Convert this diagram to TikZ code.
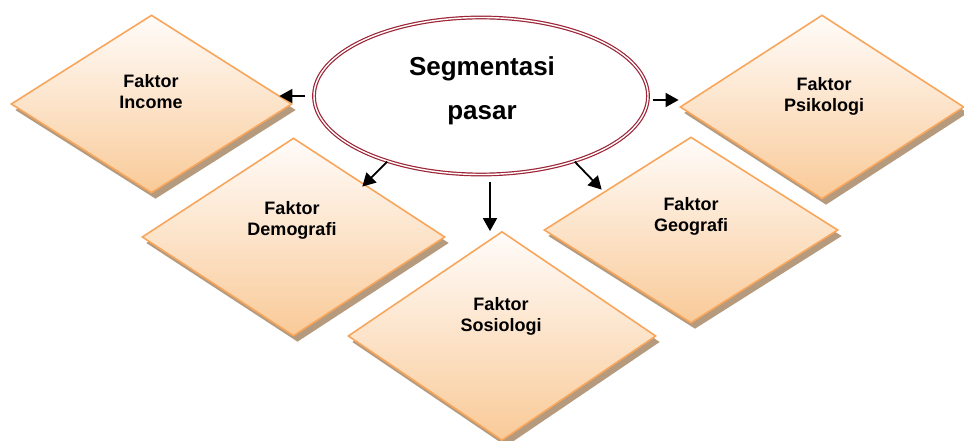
\documentclass[tikz,border=0pt]{standalone}
\usepackage{fontspec}
\setmainfont{Liberation Sans}
\usetikzlibrary{shapes.geometric,shadows,arrows.meta}
\definecolor{facborder}{HTML}{F7A65B}
\definecolor{factop}{HTML}{FFFCFA}
\definecolor{facbottom}{HTML}{F9CA98}
\definecolor{facshadow}{HTML}{B59A7E}
\definecolor{ellred}{HTML}{9C2436}
\tikzset{
  factor/.style={diamond, draw=facborder, line width=1.6pt, inner sep=0pt,
    top color=factop, bottom color=facbottom,
    general shadow={fill=facshadow, shadow xshift=4pt, shadow yshift=-6pt}},
  lbl/.style={font=\fontsize{18}{21}\selectfont\bfseries, align=center, inner sep=0pt},
  hub/.style={ellipse, draw=ellred, line width=1.2pt, double=white, double distance=1.4pt,
    fill=white, inner sep=0pt, minimum width=334pt, minimum height=157pt},
  hubtext/.style={font=\fontsize{26}{44}\selectfont\bfseries, align=center, inner sep=0pt},
  arr/.style={-{Triangle[width=14pt,length=13pt]}, line width=1.8pt, black}
}
\begin{document}
\begin{tikzpicture}[x=1pt,y=-1pt]
  \useasboundingbox (0,0) rectangle (964,441);

  % factor diamonds
  \node[factor, minimum width=281pt, minimum height=178pt] (inc) at (151.5,104) {};
  \node[factor, minimum width=284pt, minimum height=184pt] (psi) at (822,107) {};
  \node[factor, minimum width=303pt, minimum height=198pt] (dem) at (293.5,237) {};
  \node[factor, minimum width=294pt, minimum height=186pt] (geo) at (691,230) {};
  \node[factor, minimum width=308pt, minimum height=209pt] (sos) at (502,336) {};

  % diamond labels
  \node[lbl] (incl) at (151,93.6) {\strut Faktor\\Income\strut};
  \node[lbl] (psil) at (824,97) {\strut Faktor\\Psikologi\strut};
  \node[lbl] (deml) at (292,220.3) {\strut Faktor\\Demografi\strut};
  \node[lbl] (sosl) at (501,317) {\strut Faktor\\Sosiologi\strut};
  \node[lbl] (geol) at (691,217) {\strut Faktor\\Geografi\strut};

  % central ellipse
  \node[hub] (ell) at (481,96) {};
  \node[hubtext] (ellt) at (482,89.2) {\strut Segmentasi\\pasar\strut};

  % connectors
  \draw[arr] ([xshift=-8pt]ell.west) -- ([xshift=-34pt]ell.west);
  \draw[arr] ([xshift=4pt,yshift=-4pt]ell.east) -- ([xshift=30pt,yshift=-4pt]ell.east);
  \draw[arr] (ell.215) -- ++(-25,25);
  \draw[arr] ([xshift=9pt,yshift=-7pt]ell.south) -- ++(0,49);
  \draw[arr] (ell.325) -- ++(27,28);
\end{tikzpicture}
\end{document}
